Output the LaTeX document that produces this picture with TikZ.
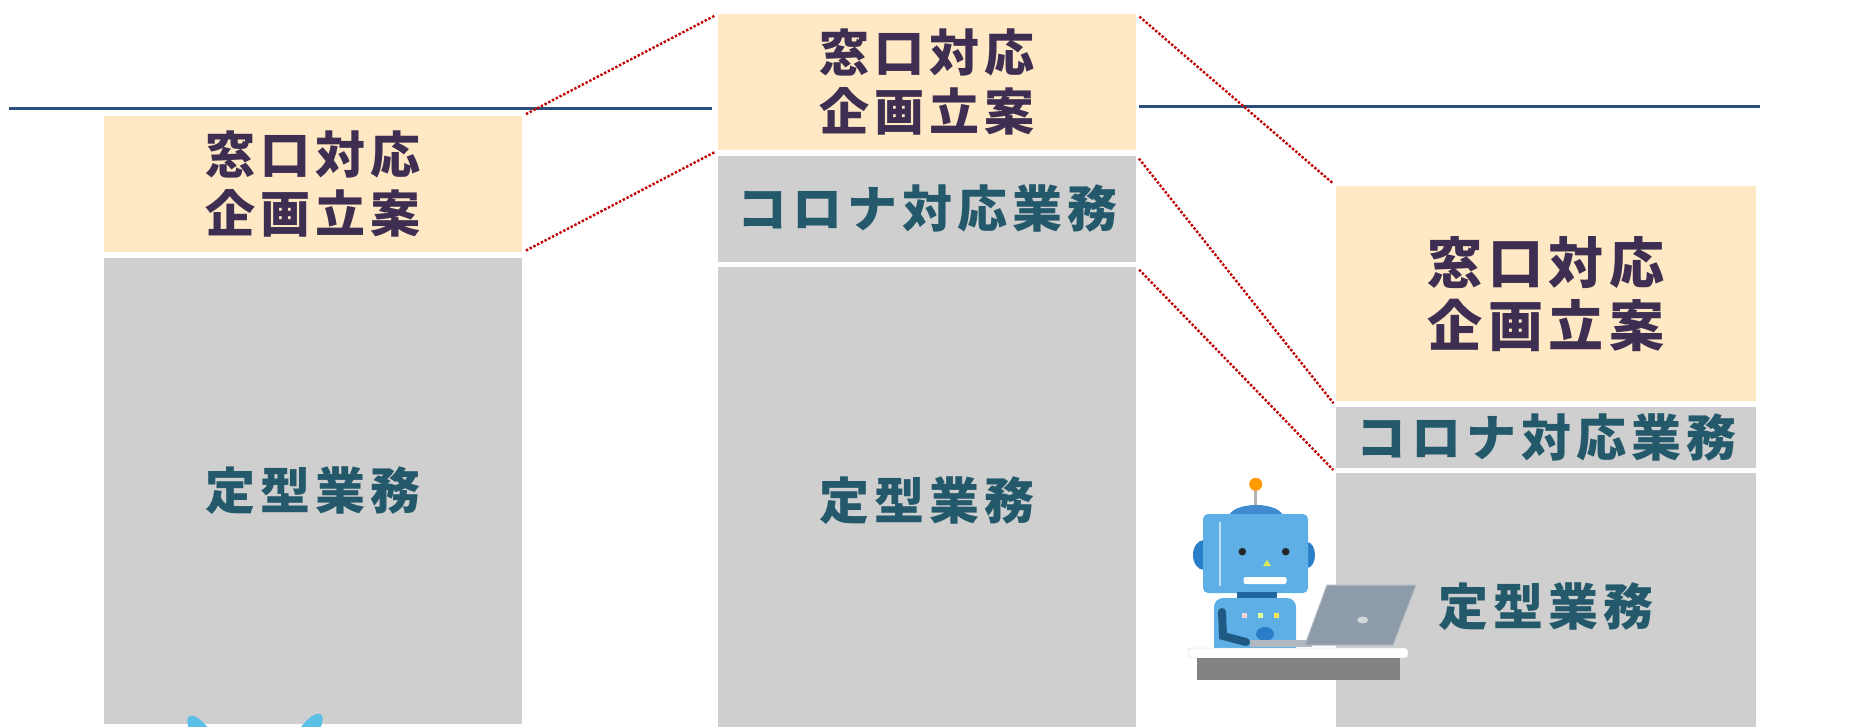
\documentclass[tikz,border=0pt]{standalone}
\usepackage{fontspec}
\newfontfamily\jpfont{Noto Sans CJK JP}[LetterSpace=10]
\usetikzlibrary{positioning}

\definecolor{planfill}{HTML}{FFE8C4}
\definecolor{workfill}{HTML}{CFCFCF}
\definecolor{plantext}{HTML}{3E2F52}
\definecolor{worktext}{HTML}{23596A}
\definecolor{levelblue}{HTML}{2C4E7C}
\definecolor{linkred}{HTML}{C00000}
\definecolor{robolight}{HTML}{5DAFE6}
\definecolor{robodark}{HTML}{2A7EC8}
\definecolor{roboarm}{HTML}{1F5A85}
\definecolor{screengray}{HTML}{8E9BA8}
\definecolor{earblue}{HTML}{5BBFE6}

\tikzset{
  box/.style={rectangle, inner sep=0pt, anchor=north west, align=center},
  plan/.style={box, fill=planfill, text=plantext,
    font=\jpfont\bfseries\fontsize{50}{59}\selectfont},
  work/.style={box, fill=workfill, text=worktext,
    font=\jpfont\bfseries\fontsize{50}{59}\selectfont},
  link/.style={linkred, line width=2.4pt, dash pattern=on 2.4pt off 1.8pt,
    shorten <=4pt, shorten >=4pt},
  level/.style={levelblue, line width=3pt},
}

\begin{document}
\begin{tikzpicture}[x=1pt, y=-1pt]
\useasboundingbox (0,0) rectangle (1855,727);
\clip (0,0) rectangle (1855,727);
% level lines
\coordinate (lvl_a) at (9,108.5);
\coordinate (lvl_b) at (712,108.5);
\coordinate (lvl_c) at (1139,106.5);
\coordinate (lvl_d) at (1760,106.5);
\draw[level] (lvl_a) -- (lvl_b);
\draw[level] (lvl_c) -- (lvl_d);
% left stack
\node[plan, minimum width=418pt, minimum height=136pt] (plan_l) at (104,116) {窓口対応\\企画立案};
\node[work, below=5pt of plan_l.south west, anchor=north west, minimum width=418pt, minimum height=466pt] (routine_l) {定型業務};
% middle stack
\node[plan, minimum width=418pt, minimum height=136pt] (plan_m) at (718,14) {窓口対応\\企画立案};
\node[work, below=5pt of plan_m.south west, anchor=north west, minimum width=418pt, minimum height=106pt] (covid_m) {コロナ対応業務};
\node[work, below=5pt of covid_m.south west, anchor=north west, minimum width=418pt, minimum height=468pt] (routine_m) {定型業務};
% right stack
\node[plan, minimum width=420pt, minimum height=215pt, font=\jpfont\bfseries\fontsize{55}{63}\selectfont] (plan_r) at (1336,186) {窓口対応\\企画立案};
\node[work, below=5pt of plan_r.south west, anchor=north west, minimum width=420pt, minimum height=61pt] (covid_r) {コロナ対応業務};
\node[work, below=5pt of covid_r.south west, anchor=north west, minimum width=420pt, minimum height=268pt] (routine_r) {定型業務};
% links
\draw[link] (plan_l.north east) -- (plan_m.north west);
\draw[link] (plan_l.south east) -- (plan_m.south west);
\draw[link] (plan_m.north east) -- (plan_r.north west);
\draw[link] (covid_m.north east) -- (covid_r.north west);
\draw[link] (routine_m.north east) -- (routine_r.north west);
% robot at the desk
\draw[line width=2.5pt, gray!60] (1255.7,490) -- (1255.7,507);
\fill[orange!80!yellow] (1255.7,484.3) circle (6.5);
\fill[robodark!90!white] (1256,517) ellipse (27 and 12);
\fill[robodark] (1204,555) ellipse (11 and 15);
\fill[robodark] (1307,555) ellipse (8 and 13);
\fill[robolight, rounded corners=5pt] (1203,514) rectangle (1308,593);
\draw[white, opacity=.6, line width=1.5pt] (1220,522) -- (1220,586);
\fill[black!85] (1242.3,551.7) circle (3.8) (1285.7,551.7) circle (3.8);
\fill[yellow!80!green!70] (1267,560) -- (1263,566) -- (1271,566) -- cycle;
\fill[white, rounded corners=2pt] (1243.5,577) rectangle (1286.5,584);
\fill[robodark!80!black] (1237,592) rectangle (1277,600);
\fill[robolight, rounded corners=9pt] (1214,598) rectangle (1296,660);
\fill[pink!70] (1241.5,612.5) rectangle (1246.5,617.5);
\fill[green!25!yellow!40] (1257.5,612.5) rectangle (1262.5,617.5);
\fill[yellow!80!orange!70] (1273.5,612.5) rectangle (1278.5,617.5);
\draw[roboarm, line width=8pt, line cap=round] (1222,612) -- (1223,636) -- (1246,642);
\fill[robodark] (1265,634) ellipse (9 and 7);
\fill[screengray!70!white] (1250,640) rectangle (1312,647);
\fill[screengray, draw=screengray!70!white, line width=1pt] (1327,585) -- (1416,585) -- (1393,645) -- (1305,645) -- cycle;
\fill[screengray!40!white] (1362.7,620) ellipse (5.5 and 3.5);
\fill[white, draw=gray!40, rounded corners=3pt] (1188,648) rectangle (1408,658);
\fill[gray!70!black!75] (1197,658) rectangle (1400,680);
% ears peeking up from below
\fill[earblue] (203,736) ellipse [x radius=9, y radius=24, rotate=35];
\fill[earblue] (307,734) ellipse [x radius=9, y radius=24, rotate=-35];
\end{tikzpicture}
\end{document}
